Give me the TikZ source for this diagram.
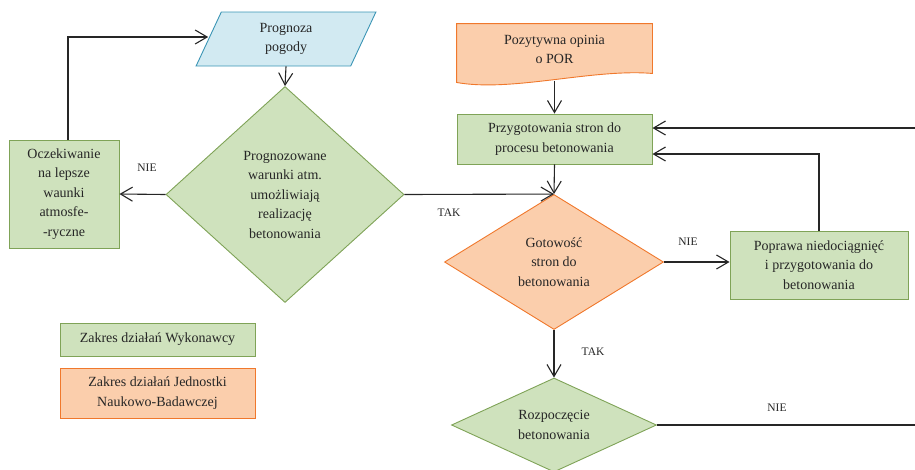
\documentclass[tikz,border=0pt]{standalone}
\usepackage{fontspec}
\setmainfont{Liberation Serif}
\usepackage{tikz}
\usetikzlibrary{shapes.geometric}
\usetikzlibrary{arrows.meta}
\usetikzlibrary{backgrounds}
\tikzset{>={Straight Barb[width=14pt,length=12pt]}}
\definecolor{greenfill}{HTML}{CFE2BD}
\definecolor{greenline}{HTML}{7FA357}
\definecolor{orangefill}{HTML}{FBCEAC}
\definecolor{orangeline}{HTML}{F0782C}
\definecolor{bluefill}{HTML}{D2EAF2}
\definecolor{blueline}{HTML}{3B95B5}
\definecolor{ink}{HTML}{262626}

\begin{document}
\begin{tikzpicture}[x=1pt,y=-1pt,
  every node/.style={text=ink, align=center, inner sep=0pt,
    font=\fontsize{14}{19.5}\selectfont},
  every path/.style={line width=0.9pt},
  box/.style={rectangle, draw},
  decision/.style={diamond, draw},
  greenbox/.style={fill=greenfill, draw=greenline},
  orangebox/.style={fill=orangefill, draw=orangeline},
  label/.style={font=\fontsize{11.5}{14}\selectfont},
  link/.style={->, draw=ink, line width=1.1pt}]

  \newcommand\BoxW{195pt};

  \useasboundingbox (0,0) rectangle (915,469);

  %% left part
  \node[trapezium, trapezium stretches=true,
    trapezium left angle=72, trapezium right angle=108,
    minimum width=180pt, minimum height=54pt, fill=bluefill, draw=blueline]
    (prognoza) at (286,39) {Prognoza\\pogody};
  \node[decision, greenbox, aspect=1.1, minimum width=238pt, minimum height=216pt]
    (warunki) at (285,194.5)
    {Prognozowane\\warunki atm.\\umożliwiają\\realizację\\betonowania};
  \node[box, greenbox, minimum width=110pt, minimum height=108pt]
    (oczek) at (64,194) {Oczekiwanie\\na lepsze\\waunki\\atmosfe-\\-ryczne};

  %% legend
  \node[box, greenbox, minimum width=\BoxW, minimum height=33pt]
    (wykon) at (157.5,339.5) {Zakres działań Wykonawcy};
  \node[box, orangebox, minimum width=\BoxW, minimum height=50pt]
    (jednostka) at (157.5,393) {Zakres działań Jednostki\\Naukowo-Badawczej};

  %% right part
  \node[minimum width=\BoxW, minimum height=51pt] (opinia) at (554.5,49.5)
    {Pozytywna opinia\\o POR};
  \begin{pgfonlayer}{background}
    \draw[orangebox] (opinia.north west) -- (opinia.north east)
      -- ([yshift=2pt]opinia.south east)
      .. controls +(-60,-5) and +(55,10) .. ([yshift=-7pt]opinia.south west)
      -- cycle;
  \end{pgfonlayer}
  \node[box, greenbox, minimum width=\BoxW, minimum height=50pt]
    (przyg) at (554.5,139) {Przygotowania stron do\\procesu betonowania};
  \node[decision, orangebox, aspect=1.6, minimum width=219pt, minimum height=135pt]
    (gotow) at (554,262) {Gotowość\\stron do\\betonowania};
  \node[box, greenbox, minimum width=178pt, minimum height=68pt]
    (poprawa) at (819,265) {Poprawa niedociągnięć\\i przygotowania do\\betonowania};
  \node[decision, greenbox, aspect=2.2, minimum width=205pt, minimum height=94pt]
    (rozp) at (554,425) {Rozpoczęcie\\betonowania};

  \coordinate (wejscie) at (915,128);
  \coordinate (wyjscie) at (915,425);

  %% connectors
  \draw[link] (prognoza.south) -- (warunki.north);
  \draw[link] (warunki.west) -- (oczek.east);
  \draw[link] ([xshift=4pt]oczek.north) |- ([yshift=2pt]prognoza.west);
  \draw[link] (warunki.east) -- (gotow.north);
  \draw[link] ([yshift=-6pt]opinia.south) -- (przyg.north);
  \draw[link] (przyg.south) -- (gotow.north);
  \draw[link] (wejscie) -- (wejscie -| przyg.east);
  \draw[link] (poprawa.north) |- ([yshift=-15pt]przyg.east);
  \draw[link] (gotow.east) -- (gotow.east -| poprawa.west);
  \draw[link] (gotow.south) -- (rozp.north);
  \draw[draw=ink, line width=1.1pt] (rozp.east) -- (wyjscie);

  \small
  \node[label] (nie1) at (147,168) {NIE};
  \node[label] (tak1) at (449,213) {TAK};
  \node[label] (nie2) at (688,242) {NIE};
  \node[label] (tak2) at (593,352) {TAK};
  \node[label] (nie3) at (777,408) {NIE};

\end{tikzpicture}
\end{document}
